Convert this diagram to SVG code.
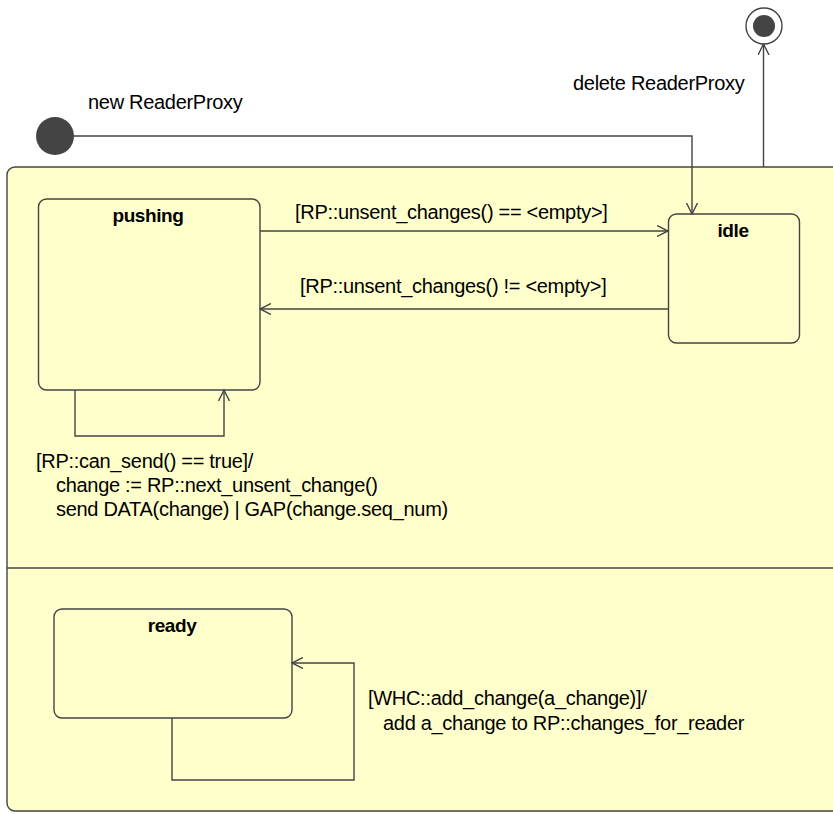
<svg xmlns="http://www.w3.org/2000/svg" width="833" height="814" viewBox="0 0 833 814">
<defs>
<style>
.st{fill:#FFFFCC;stroke:#444;stroke-width:1.4}
.ln{fill:none;stroke:#444;stroke-width:1.4}
.t{font-family:"Liberation Sans",Arial,sans-serif;font-size:20px;letter-spacing:-0.3px;fill:#000}
.b{font-family:"Liberation Sans",Arial,sans-serif;font-size:19px;letter-spacing:-0.4px;font-weight:bold;fill:#000;text-anchor:middle}
</style>
<marker id="arr" viewBox="0 0 12 12" refX="11" refY="6" markerWidth="12" markerHeight="12" markerUnits="userSpaceOnUse" orient="auto">
<path d="M0,0.5 L11,6 L0,11.5" fill="none" stroke="#444" stroke-width="1.4"/>
</marker>
</defs>
<rect width="833" height="814" fill="#fff"/>
<g id="composite">
<rect class="st" x="7" y="167" width="840" height="644" rx="8"/>
<line class="ln" x1="7" y1="568" x2="840" y2="568"/>
</g>
<g id="initial"><circle cx="55" cy="136" r="19" fill="#444"/></g>
<g id="final">
<circle cx="764" cy="26" r="18" fill="#fff" stroke="#444" stroke-width="1.4"/>
<circle cx="764" cy="26" r="11" fill="#444"/>
</g>
<g id="pushing">
<rect class="st" x="38.5" y="199" width="221.5" height="191" rx="8"/>
<text class="b" x="148" y="222">pushing</text>
</g>
<g id="idle">
<rect class="st" x="668.5" y="214" width="131" height="129" rx="8"/>
<text class="b" x="733" y="237">idle</text>
</g>
<g id="ready">
<rect class="st" x="54" y="609" width="238" height="109" rx="8"/>
<text class="b" x="172" y="632">ready</text>
</g>
<g id="connectors">
<path class="ln" d="M74,136 H692 V214" marker-end="url(#arr)"/>
<path class="ln" d="M763.5,167 V44" marker-end="url(#arr)"/>
<path class="ln" d="M260,231 H668" marker-end="url(#arr)"/>
<path class="ln" d="M668,309 H260" marker-end="url(#arr)"/>
<path class="ln" d="M75,390 V436 H224 V390" marker-end="url(#arr)"/>
<path class="ln" d="M172,718 V780 H354 V663 H292" marker-end="url(#arr)"/>
</g>
<g id="labels">
<text class="t" x="88" y="109">new ReaderProxy</text>
<text class="t" x="573" y="90">delete ReaderProxy</text>
<text class="t" x="295" y="219">[RP::unsent_changes() == &lt;empty&gt;]</text>
<text class="t" x="300" y="293">[RP::unsent_changes() != &lt;empty&gt;]</text>
<text class="t" x="36" y="468">[RP::can_send() == true]/</text>
<text class="t" x="56" y="492">change := RP::next_unsent_change()</text>
<text class="t" x="56" y="516">send DATA(change) | GAP(change.seq_num)</text>
<text class="t" x="368" y="705">[WHC::add_change(a_change)]/</text>
<text class="t" x="383" y="730">add a_change to RP::changes_for_reader</text>
</g>
</svg>
